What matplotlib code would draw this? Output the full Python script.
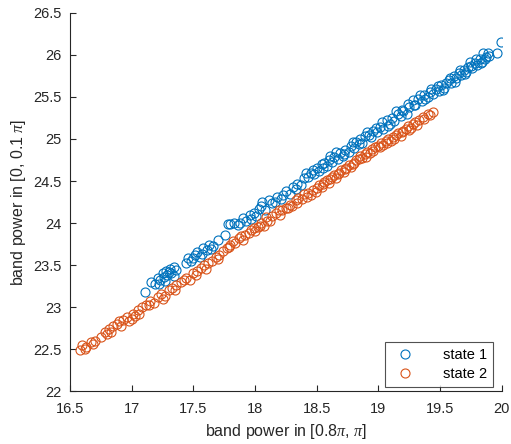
import matplotlib
matplotlib.use('Agg')
import matplotlib.pyplot as plt

# state 1 (blue)
state1_x = [17.11, 17.16, 17.19, 17.21, 17.23, 17.25, 17.26, 17.28, 17.29, 17.31,
            17.32, 17.34, 17.36, 17.44, 17.46, 17.48, 17.51, 17.53, 17.55, 17.58,
            17.61, 17.63, 17.66, 17.70, 17.76, 17.80, 17.83, 17.86, 17.90, 17.93,
            17.96, 17.99, 18.01, 18.03, 18.05, 18.08, 18.11, 18.14, 18.18, 18.21,
            18.25, 18.28, 18.31, 18.34, 18.37, 18.40, 18.43, 18.45, 18.48, 18.50,
            18.52, 18.54, 18.56, 18.58, 18.60, 18.62, 18.64, 18.67, 18.69, 18.71,
            18.73, 18.76, 18.78, 18.80, 18.82, 18.85, 18.87, 18.89, 18.92, 18.94,
            18.96, 18.99, 19.01, 19.04, 19.07, 19.09, 19.11, 19.13, 19.16, 19.18,
            19.20, 19.23, 19.25, 19.28, 19.30, 19.32, 19.35, 19.37, 19.40, 19.42,
            19.44, 19.47, 19.49, 19.51, 19.53, 19.55, 19.57, 19.59, 19.61, 19.63,
            19.65, 19.67, 19.69, 19.71, 19.73, 19.74, 19.76, 19.78, 19.80, 19.82,
            19.84, 19.85, 19.87, 19.90, 19.96, 19.99,
            17.22, 17.27, 17.30, 17.34, 17.50, 17.57, 17.64, 17.78, 17.88, 17.97,
            18.06, 18.16, 18.23, 18.33, 18.41, 18.47, 18.55, 18.61, 18.66, 18.72,
            18.79, 18.84, 18.91, 18.98, 19.03, 19.08, 19.14, 19.19, 19.24, 19.29,
            19.34, 19.38, 19.43, 19.48, 19.52, 19.58, 19.62, 19.66, 19.70, 19.75,
            19.79, 19.83, 19.86, 19.89]
state1_y = [23.18, 23.30, 23.27, 23.35, 23.32, 23.40, 23.36, 23.43, 23.38, 23.45,
            23.41, 23.48, 23.44, 23.52, 23.58, 23.55, 23.62, 23.66, 23.60, 23.70,
            23.68, 23.74, 23.73, 23.80, 23.86, 23.99, 24.00, 23.98, 24.06, 24.02,
            24.10, 24.12, 24.08, 24.17, 24.20, 24.15, 24.27, 24.24, 24.31, 24.28,
            24.38, 24.35, 24.43, 24.47, 24.45, 24.53, 24.55, 24.60, 24.58, 24.66,
            24.62, 24.70, 24.72, 24.68, 24.75, 24.73, 24.79, 24.76, 24.83, 24.80,
            24.87, 24.85, 24.92, 24.89, 24.96, 25.00, 24.95, 25.03, 25.05, 25.02,
            25.10, 25.08, 25.14, 25.12, 25.22, 25.18, 25.25, 25.21, 25.30, 25.27,
            25.33, 25.30, 25.38, 25.46, 25.40, 25.47, 25.45, 25.52, 25.50, 25.56,
            25.53, 25.60, 25.57, 25.64, 25.61, 25.66, 25.70, 25.67, 25.75, 25.72,
            25.78, 25.76, 25.82, 25.80, 25.86, 25.92, 25.84, 25.90, 25.88, 25.95,
            25.92, 26.02, 25.97, 25.99, 26.02, 26.15,
            23.28, 23.31, 23.42, 23.37, 23.58, 23.63, 23.69, 23.99, 24.00, 24.05,
            24.25, 24.25, 24.33, 24.40, 24.60, 24.63, 24.65, 24.80, 24.84, 24.82,
            24.96, 24.94, 25.08, 25.13, 25.20, 25.15, 25.33, 25.34, 25.42, 25.41,
            25.52, 25.48, 25.60, 25.63, 25.58, 25.73, 25.68, 25.82, 25.77, 25.87,
            25.95, 25.90, 25.95, 26.02]

# state 2 (orange)
state2_x = [16.58, 16.60, 16.63, 16.67, 16.70, 16.75, 16.78, 16.80, 16.82, 16.85,
            16.88, 16.91, 16.93, 16.96, 16.98, 17.01, 17.03, 17.05, 17.08, 17.12,
            17.15, 17.18, 17.21, 17.24, 17.27, 17.30, 17.33, 17.36, 17.40, 17.44,
            17.47, 17.50, 17.53, 17.56, 17.59, 17.62, 17.65, 17.68, 17.71, 17.74,
            17.77, 17.80, 17.82, 17.84, 17.87, 17.90, 17.92, 17.95, 17.97, 18.00,
            18.02, 18.05, 18.07, 18.09, 18.12, 18.14, 18.17, 18.20, 18.22, 18.25,
            18.28, 18.30, 18.33, 18.35, 18.38, 18.40, 18.43, 18.45, 18.47, 18.50,
            18.52, 18.54, 18.56, 18.58, 18.60, 18.62, 18.64, 18.66, 18.68, 18.70,
            18.72, 18.74, 18.76, 18.78, 18.80, 18.82, 18.85, 18.87, 18.89, 18.91,
            18.93, 18.95, 18.97, 19.00, 19.02, 19.04, 19.06, 19.08, 19.10, 19.12,
            19.14, 19.16, 19.18, 19.20, 19.22, 19.24, 19.26, 19.28, 19.30, 19.33,
            19.36, 19.40, 19.44,
            16.62, 16.69, 16.83, 16.90, 17.00, 17.06, 17.14, 17.25, 17.35, 17.42,
            17.52, 17.60, 17.70, 17.79, 17.89, 17.99, 18.04, 18.10, 18.19, 18.27,
            18.34, 18.42, 18.49, 18.55, 18.61, 18.67, 18.73, 18.79, 18.84, 18.90,
            18.96, 19.01, 19.07, 19.13, 19.19, 19.25, 19.31, 19.37, 19.42]
state2_y = [22.49, 22.55, 22.53, 22.58, 22.60, 22.65, 22.70, 22.68, 22.74, 22.77,
            22.80, 22.78, 22.85, 22.88, 22.84, 22.92, 22.90, 22.96, 23.00, 23.02,
            23.07, 23.05, 23.12, 23.15, 23.13, 23.20, 23.23, 23.26, 23.30, 23.35,
            23.32, 23.40, 23.43, 23.46, 23.50, 23.52, 23.55, 23.60, 23.62, 23.67,
            23.70, 23.74, 23.79, 23.76, 23.82, 23.80, 23.86, 23.88, 23.92, 23.90,
            23.95, 24.00, 23.97, 24.07, 24.03, 24.08, 24.12, 24.10, 24.16, 24.18,
            24.22, 24.20, 24.27, 24.30, 24.28, 24.34, 24.36, 24.33, 24.39, 24.42,
            24.45, 24.43, 24.49, 24.51, 24.48, 24.55, 24.57, 24.54, 24.60, 24.63,
            24.61, 24.66, 24.69, 24.67, 24.72, 24.75, 24.80, 24.77, 24.82, 24.85,
            24.83, 24.88, 24.90, 24.92, 24.95, 24.93, 24.98, 25.00, 24.98, 25.02,
            25.05, 25.07, 25.04, 25.10, 25.12, 25.15, 25.13, 25.18, 25.20, 25.23,
            25.26, 25.30, 25.32,
            22.50, 22.56, 22.70, 22.84, 22.86, 22.92, 23.02, 23.10, 23.20, 23.32,
            23.38, 23.45, 23.57, 23.71, 23.85, 23.94, 23.96, 24.02, 24.15, 24.18,
            24.24, 24.31, 24.37, 24.46, 24.52, 24.58, 24.64, 24.70, 24.76, 24.79,
            24.86, 24.90, 24.95, 25.00, 25.08, 25.11, 25.17, 25.24, 25.28]

x_ticks = [16.5, 17, 17.5, 18, 18.5, 19, 19.5, 20]
y_ticks = [22, 22.5, 23, 23.5, 24, 24.5, 25, 25.5, 26, 26.5]

plt.rcParams['font.family'] = ['Liberation Sans', 'DejaVu Sans']
plt.rcParams['mathtext.fontset'] = 'custom'
plt.rcParams['mathtext.it'] = 'Liberation Serif:italic'
plt.rcParams['mathtext.rm'] = 'Liberation Sans'

fig = plt.figure(figsize=(5.11, 4.44), dpi=100)
ax = fig.add_axes([0.137, 0.119, 0.845, 0.852])

ax.plot(state1_x, state1_y, 'o', mfc='none', mec='#0072BD', ms=6.5, mew=0.8,
        label='state 1')
ax.plot(state2_x, state2_y, 'o', mfc='none', mec='#D95319', ms=6.5, mew=0.8,
        label='state 2')

ax.set_xlim(16.5, 20)
ax.set_ylim(22, 26.5)
ax.set_xticks(x_ticks)
ax.set_yticks(y_ticks)
ax.set_xticklabels([f'{v:g}' for v in x_ticks])
ax.set_yticklabels([f'{v:g}' for v in y_ticks])

for side in ['top', 'right']:
    ax.spines[side].set_visible(False)
for side in ['left', 'bottom']:
    ax.spines[side].set_color('#262626')
    ax.spines[side].set_linewidth(0.8)
ax.tick_params(direction='in', length=4, width=0.8, color='#262626',
               labelcolor='#262626', labelsize=10.5)
ax.tick_params(axis='x', pad=8)
ax.tick_params(axis='y', pad=6)

ax.set_xlabel(r'band power in [0.8$\pi$, $\pi$]', fontsize=11.5,
              color='#262626', labelpad=4)
ax.set_ylabel(r'band power in [0, 0.1 $\pi$]', fontsize=11.5, color='#262626')

leg = ax.legend(loc='lower right', fontsize=10.5, frameon=True, fancybox=False,
                edgecolor='#262626', borderaxespad=0.3, handletextpad=1.6,
                borderpad=0.4, labelspacing=0.35, bbox_to_anchor=(0.99, 0.0))
leg.get_frame().set_linewidth(0.8)

fig.savefig('out.png', dpi=100)
